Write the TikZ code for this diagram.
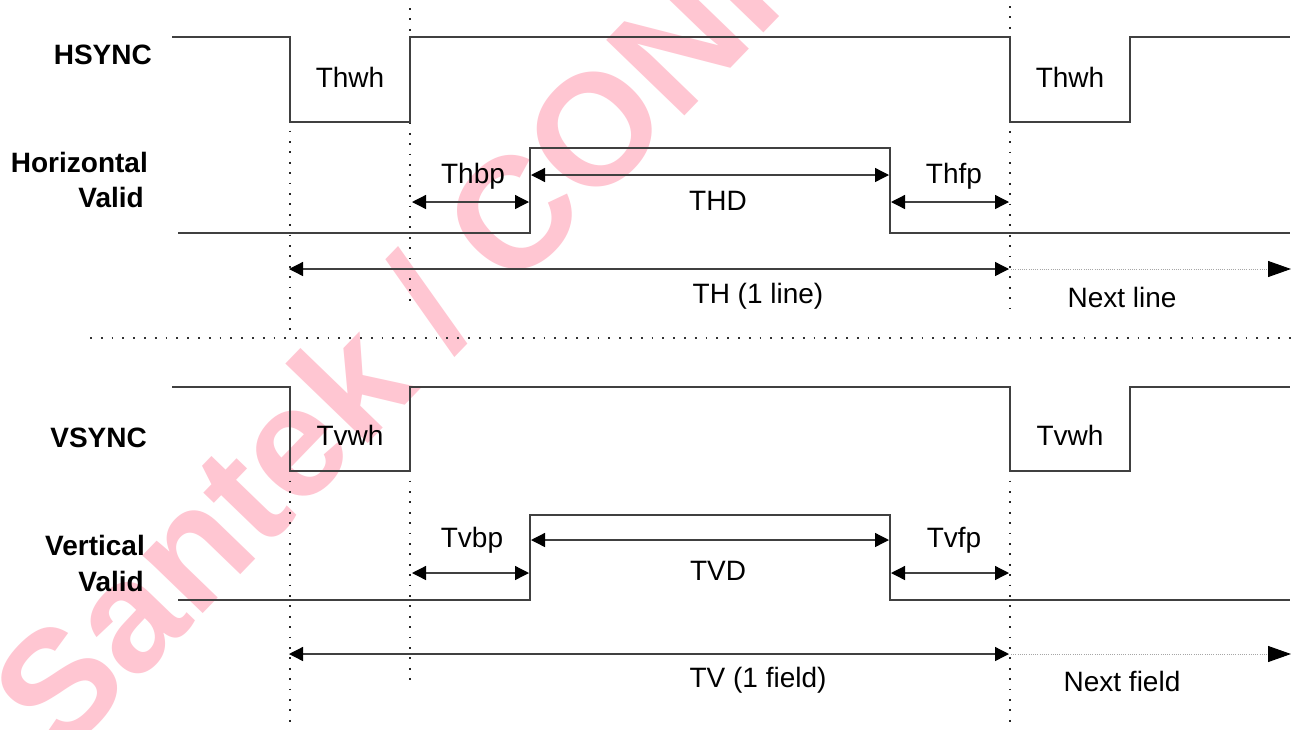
\documentclass[tikz,border=0pt]{standalone}
\usepackage{fontspec}
\setmainfont{Liberation Sans}
\usetikzlibrary{arrows.meta}
\definecolor{wmpink}{RGB}{255,198,210}
\begin{document}
\begin{tikzpicture}[x=1pt,y=-1pt,
  sig/.style={line width=1.3pt, draw=black!75, line join=miter},
  vdot/.style={line width=1.8pt, draw=black!85, dash pattern=on 1.8pt off 8.6pt},
  hdot/.style={line width=1.8pt, draw=black!80, dash pattern=on 1.8pt off 9pt},
  nextdot/.style={line width=1pt, draw=black!35, dash pattern=on 1pt off 1.2pt},
  dimarrow/.style={line width=1.3pt, draw=black!75,
    {Triangle[length=14pt,width=14pt,color=black]}-{Triangle[length=14pt,width=14pt,color=black]}},
  endtip/.style={-{Triangle[length=23pt,width=16pt,color=black]}},
  lbl/.style={inner sep=0pt, font=\fontsize{28}{30}\selectfont},
  blbl/.style={inner sep=0pt, font=\fontsize{28}{30}\selectfont\bfseries},
  wm/.style={inner sep=0pt, text=wmpink, font=\fontsize{158}{160}\selectfont\bfseries}]
\clip (0,0) rectangle (1293,729);
\fill[white] (0,0) rectangle (1293,729);
% watermark
\node[wm, rotate=46, anchor=base west] (wmark) at (61,761) {Santek / CONFIDENTIAL};

% dotted guides
\draw[vdot] (290,37) -- (290,334);
\draw[vdot] (410,8) -- (410,306);
\draw[vdot] (1010,6) -- (1010,310);
\draw[vdot] (290,387) -- (290,726);
\draw[vdot] (410,387) -- (410,684);
\draw[vdot] (1010,387) -- (1010,726);
\draw[hdot] (90,338) -- (1292,338);

% signals
\draw[sig] (172,37) -- (290,37) -- (290,122) -- (410,122) -- (410,37) -- (1010,37) -- (1010,122) -- (1130,122) -- (1130,37) -- (1290,37);
\draw[sig] (178,233) -- (530,233) -- (530,148) -- (890,148) -- (890,233) -- (1290,233);
\draw[sig] (172,387) -- (290,387) -- (290,471) -- (410,471) -- (410,387) -- (1010,387) -- (1010,471) -- (1130,471) -- (1130,387) -- (1290,387);
\draw[sig] (178,600) -- (530,600) -- (530,515) -- (890,515) -- (890,600) -- (1290,600);

% dimension arrows (top)
\coordinate (hbpA) at (412,202); \coordinate (hbpB) at (529,202);
\coordinate (hdA) at (531,175);  \coordinate (hdB) at (889,175);
\coordinate (hfpA) at (891,202); \coordinate (hfpB) at (1009,202);
\coordinate (thA) at (289,269);  \coordinate (thB) at (1009,269);
\coordinate (nlA) at (1011,269); \coordinate (nlB) at (1291,269);
\draw[dimarrow] (hbpA) -- (hbpB);
\draw[dimarrow] (hdA) -- (hdB);
\draw[dimarrow] (hfpA) -- (hfpB);
\draw[dimarrow] (thA) -- (thB);
\draw[nextdot, endtip] (nlA) -- (nlB);

% dimension arrows (bottom)
\coordinate (vbpA) at (412,573); \coordinate (vbpB) at (529,573);
\coordinate (vdA) at (531,540);  \coordinate (vdB) at (889,540);
\coordinate (vfpA) at (891,573); \coordinate (vfpB) at (1009,573);
\coordinate (tvA) at (289,654);  \coordinate (tvB) at (1009,654);
\coordinate (nfA) at (1011,654); \coordinate (nfB) at (1291,654);
\draw[dimarrow] (vbpA) -- (vbpB);
\draw[dimarrow] (vdA) -- (vdB);
\draw[dimarrow] (vfpA) -- (vfpB);
\draw[dimarrow] (tvA) -- (tvB);
\draw[nextdot, endtip] (nfA) -- (nfB);

% signal names
\node[blbl, anchor=base east] (hsync) at (152,64) {HSYNC};
\node[blbl, anchor=base east] (hval1) at (148,172) {Horizontal};
\node[blbl, anchor=base east] (hval2) at (144,207) {Valid};
\node[blbl, anchor=base east] (vsync) at (147,447) {VSYNC};
\node[blbl, anchor=base east] (vval1) at (145,555) {Vertical};
\node[blbl, anchor=base east] (vval2) at (144,591) {Valid};

% timing labels (top)
\node[lbl, anchor=base] (thwh1) at (350,87) {Thwh};
\node[lbl, anchor=base] (thwh2) at (1070,87) {Thwh};
\node[lbl, anchor=base] (thbp) at (473,183) {Thbp};
\node[lbl, anchor=base] (thd) at (718,210) {THD};
\node[lbl, anchor=base] (thfp) at (954,183) {Thfp};
\node[lbl, anchor=base] (th) at (758,303) {TH (1 line)};
\node[lbl, anchor=base] (nextl) at (1122,307) {Next line};

% timing labels (bottom)
\node[lbl, anchor=base] (tvwh1) at (350,445) {Tvwh};
\node[lbl, anchor=base] (tvwh2) at (1070,445) {Tvwh};
\node[lbl, anchor=base] (tvbp) at (472,547) {Tvbp};
\node[lbl, anchor=base] (tvd) at (718,580) {TVD};
\node[lbl, anchor=base] (tvfp) at (954,547) {Tvfp};
\node[lbl, anchor=base] (tv) at (758,687) {TV (1 field)};
\node[lbl, anchor=base] (nextf) at (1122,691) {Next field};
\end{tikzpicture}
\end{document}
